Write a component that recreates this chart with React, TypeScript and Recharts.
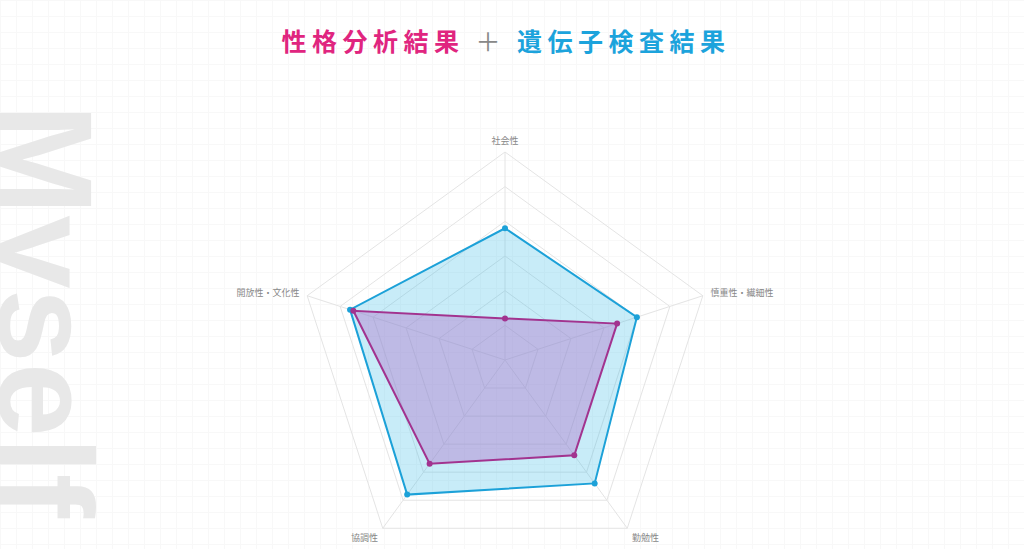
import { RadarChart, Radar, PolarGrid, PolarAngleAxis, PolarRadiusAxis } from "recharts";

// traits, clockwise from the top
const traits = ["社会性", "慎重性・繊細性", "勤勉性", "協調性", "開放性・文化性"];
const personality = [6, 17, 17, 18.5, 23];
const genetic = [19, 20, 22, 24, 23.5];
const scaleMax = 30;

const data = traits.map((trait, i) => ({
  trait,
  personality: personality[i],
  genetic: genetic[i],
}));

const font = "'Noto Sans CJK JP', 'Noto Sans', sans-serif";

export default function App() {
  return (
    <div
      style={{
        position: "absolute",
        left: 0,
        top: 0,
        width: 1024,
        height: 549,
        overflow: "hidden",
        background: "#fff",
        backgroundImage:
          "linear-gradient(#f8f8f8 1px, transparent 1px), linear-gradient(90deg, #f8f8f8 1px, transparent 1px)",
        backgroundSize: "16px 16px",
        fontFamily: font,
      }}
    >
      <svg width={1024} height={549} style={{ position: "absolute", left: 0, top: 0 }}>
        <text
          x={104}
          y={1}
          transform="rotate(90)"
          fontFamily="'Liberation Sans', Arial, sans-serif"
          fontWeight="bold"
          fontSize={133}
          fill="#e8e8e8"
        >
          Myself
        </text>
      </svg>

      <div
        style={{
          position: "absolute",
          top: 20,
          left: 0,
          width: 1012,
          textAlign: "center",
          fontSize: 25,
          fontWeight: "bold",
          letterSpacing: 5.5,
          lineHeight: "40px",
        }}
      >
        <span style={{ color: "#e0257f" }}>性格分析結果</span>
        <span style={{ color: "#888", fontWeight: "normal" }}> ＋ </span>
        <span style={{ color: "#1ca3dc" }}>遺伝子検査結果</span>
      </div>

      <div style={{ position: "absolute", left: 0, top: 0 }}>
        <RadarChart
          width={1024}
          height={549}
          data={data}
          cx={505}
          cy={360}
          outerRadius={208}
          margin={{ top: 0, right: 0, bottom: 0, left: 0 }}
        >
          <PolarGrid gridType="polygon" stroke="#e4e4e4" />
          <PolarAngleAxis
            dataKey="trait"
            axisLine={false}
            tickLine={false}
            tick={{ fontSize: 9, fill: "#888", fontFamily: font }}
          />
          <PolarRadiusAxis
            domain={[0, scaleMax]}
            tickCount={7}
            tick={false}
            axisLine={false}
          />
          <Radar
            name="遺伝子検査結果"
            dataKey="genetic"
            stroke="#1ca1d8"
            strokeWidth={2}
            fill="#3bbbe6"
            fillOpacity={0.28}
            dot={{ r: 3, fill: "#1ca1d8", fillOpacity: 1, strokeWidth: 0 }}
            isAnimationActive={false}
          />
          <Radar
            name="性格分析結果"
            dataKey="personality"
            stroke="#a2338f"
            strokeWidth={2}
            fill="#b070c8"
            fillOpacity={0.4}
            dot={{ r: 3, fill: "#a2338f", fillOpacity: 1, strokeWidth: 0 }}
            isAnimationActive={false}
          />
        </RadarChart>
      </div>
    </div>
  );
}
